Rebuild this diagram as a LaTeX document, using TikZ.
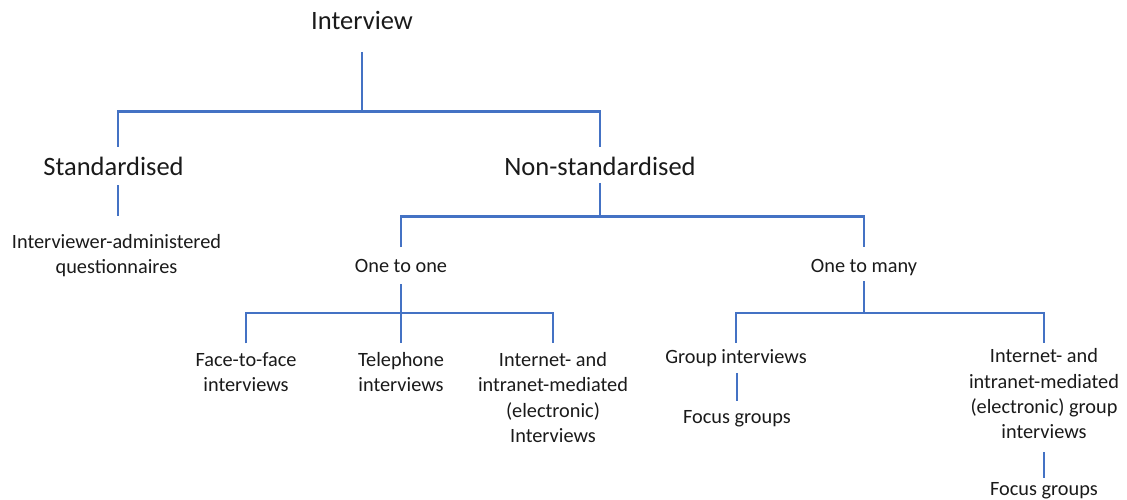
\documentclass[tikz,border=0pt]{standalone}
\usepackage{fontspec}
\setmainfont{Carlito}
\definecolor{linkblue}{HTML}{4472C4}
\definecolor{txt}{HTML}{1A1A1A}
\begin{document}
\begin{tikzpicture}[x=1pt,y=-1pt,
  big/.style={font=\fontsize{26.5pt}{30pt}\selectfont, text=txt, inner xsep=0pt, outer sep=0pt, align=center},
  small/.style={font=\fontsize{20.3pt}{25.3pt}\selectfont, text=txt, inner xsep=0pt, outer sep=0pt, align=center},
  conn/.style={draw=linkblue, line width=2.2pt}]
\useasboundingbox (0,0) rectangle (1127,499);
% nodes
\node[big, anchor=base, inner ysep=0pt] (interview) at (362,29.3) {Interview};
\node[big, anchor=north, inner ysep=10pt] (std) at (113.5,146.7) {Standardised};
\node[big, anchor=north, inner ysep=10pt] (ns) at (600,146.7) {Non-standardised};
\node[small, anchor=north, inner ysep=18pt] (iaq) at (116.5,216) {Interviewer-administered\\questionnaires};
\node[small, anchor=north, inner ysep=12.4pt] (oto) at (401,247) {One to one};
\node[small, anchor=north, inner ysep=12.4pt] (otm) at (864,247) {One to many};
\node[small, anchor=north, inner ysep=9pt] (f2f) at (246,343.3) {Face-to-face\\interviews};
\node[small, anchor=north, inner ysep=9pt] (tel) at (401,343.3) {Telephone\\interviews};
\node[small, anchor=north, inner ysep=9pt] (inet1) at (553,343.3) {Internet- and\\intranet-mediated\\(electronic)\\Interviews};
\node[small, anchor=north, inner ysep=6.5pt] (grp) at (736,342.7) {Group interviews};
\node[small, anchor=north, inner ysep=9pt] (fg1) at (737,401) {Focus groups};
\node[small, anchor=north, inner ysep=6pt] (inet2) at (1044,342.7) {Internet- and\\intranet-mediated\\(electronic) group\\interviews};
\node[small, anchor=north, inner ysep=5pt] (fg2) at (1044,477.5) {Focus groups};
% junctions
\coordinate (b1) at (362,111.5);
\coordinate (b2) at (600,216.5);
\coordinate (b3) at (401,313.3);
\coordinate (b4) at (864,313.3);
% connectors
\draw[conn, shorten <=22.4pt] (interview.south) -- (b1);
\draw[conn] ([xshift=4.5pt]std.north) |- (b1) -| (ns.north);
\draw[conn] ([xshift=4.5pt]std.south) -- ([xshift=1.5pt]iaq.north);
\draw[conn, shorten <=-2.4pt] (ns.south) -- (b2);
\draw[conn] (oto.north) |- (b2) -| (otm.north);
\draw[conn, shorten <=-1pt] (oto.south) -- (tel.north);
\draw[conn] (f2f.north) |- (b3) -| (inet1.north);
\draw[conn, shorten <=-7pt] (otm.south) -- (b4);
\draw[conn] (grp.north) |- (b4) -| (inet2.north);
\draw[conn] ([xshift=1pt]grp.south) -- (fg1.north);
\draw[conn, shorten <=7.3pt] (inet2.south) -- (fg2.north);
\end{tikzpicture}
\end{document}
